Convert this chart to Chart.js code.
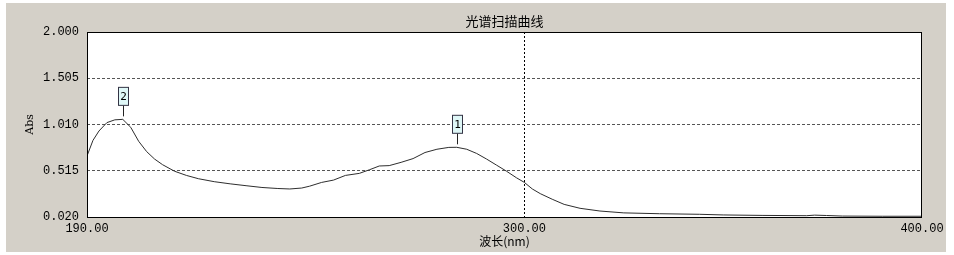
<!DOCTYPE html>
<html>
<head>
<meta charset="utf-8">
<script src="https://cdn.jsdelivr.net/npm/chart.js@4/dist/chart.umd.min.js"></script>
<style>
  html, body { margin: 0; padding: 0; background: #fff; }
  #wrap { width: 954px; height: 255px; }
</style>
</head>
<body>
<div id="wrap"><canvas id="spectrum" width="954" height="255"></canvas></div>
<script>
const titleText = "光谱扫描曲线";
const xTitle = "波长(nm)";
const yTitle = "Abs";

const wavelengths = [
  190, 191.5, 193, 195, 197, 199, 201, 203, 205, 207, 209, 212, 215, 218, 222,
  226, 230, 234, 238, 241, 244, 246, 249, 252, 255, 258.5, 261, 263.5, 266, 269,
  272, 275, 278, 281, 283, 285.5, 288, 290.5, 293, 295.5, 298, 300, 302, 304,
  307, 310, 314, 319, 325, 334, 344, 350, 360, 371, 373, 376, 380, 390, 400
];
const absorbance = [
  0.673, 0.84, 0.94, 1.03, 1.06, 1.065, 0.98, 0.83, 0.72, 0.64, 0.58, 0.51, 0.465, 0.43, 0.398,
  0.375, 0.355, 0.336, 0.325, 0.32, 0.33, 0.35, 0.39, 0.415, 0.465, 0.487, 0.525, 0.566, 0.57, 0.605,
  0.645, 0.71, 0.745, 0.765, 0.766, 0.745, 0.70, 0.64, 0.575, 0.51, 0.44, 0.39, 0.32, 0.27,
  0.21, 0.155, 0.113, 0.084, 0.064, 0.055, 0.049, 0.042, 0.037, 0.034, 0.04, 0.036, 0.03, 0.028, 0.028
];

const xTicks = [190, 300, 400];
const yTicks = [0.02, 0.515, 1.01, 1.505, 2.0];

// peak markers: label + wavelength
const peakLabels = ["1", "2"];
const peakWavelengths = [283, 199];

const tickFont = { family: "'Liberation Mono', 'DejaVu Sans Mono', monospace", size: 12 };
const cjkFont = "'Noto Sans CJK SC', 'Noto Sans', sans-serif";

const points = wavelengths.map((w, i) => ({ x: w, y: absorbance[i] }));

// fond gris + zone blanche
const backdrop = {
  id: "backdrop",
  beforeDraw(chart) {
    const { ctx, chartArea: a } = chart;
    ctx.save();
    ctx.fillStyle = "#ffffff";
    ctx.fillRect(0, 0, chart.width, chart.height);
    ctx.fillStyle = "#d4d0c8";
    ctx.fillRect(6, 3, chart.width - 14, chart.height - 6);
    ctx.fillStyle = "#ffffff";
    ctx.fillRect(a.left, a.top, a.right - a.left, a.bottom - a.top);
    ctx.restore();
  },
  afterDraw(chart) {
    const { ctx, chartArea: a } = chart;
    ctx.save();
    ctx.strokeStyle = "#000";
    ctx.lineWidth = 1;
    ctx.strokeRect(a.left + 0.5, a.top + 0.5, a.right - a.left - 1, a.bottom - a.top);
    // titolo centrato sul grafico
    ctx.fillStyle = "#000";
    ctx.font = "13px " + cjkFont;
    ctx.textAlign = "center";
    ctx.textBaseline = "middle";
    ctx.fillText(titleText, (a.left + a.right) / 2, 21);
    ctx.restore();
  }
};

// marcatori dei picchi
const peakMarkers = {
  id: "peakMarkers",
  afterDatasetsDraw(chart) {
    const { ctx, scales } = chart;
    ctx.save();
    peakLabels.forEach((lab, i) => {
      const idx = wavelengths.indexOf(peakWavelengths[i]);
      const px = Math.round(scales.x.getPixelForValue(wavelengths[idx])) + 0.5;
      const py = scales.y.getPixelForValue(absorbance[idx]);
      ctx.strokeStyle = "#222";
      ctx.lineWidth = 1;
      ctx.beginPath();
      ctx.moveTo(px, py - 3);
      ctx.lineTo(px, py - 14);
      ctx.stroke();
      const bw = 10, bh = 18;
      ctx.fillStyle = "#dff7f7";
      ctx.fillRect(px - bw / 2, py - 14 - bh, bw, bh);
      ctx.strokeStyle = "#334";
      ctx.strokeRect(px - bw / 2, py - 14 - bh, bw, bh);
      ctx.fillStyle = "#000";
      ctx.font = "11px 'DejaVu Sans Mono', monospace";
      ctx.textAlign = "center";
      ctx.textBaseline = "middle";
      ctx.fillText(lab, px, py - 14 - bh / 2 + 1);
    });
    ctx.restore();
  }
};

new Chart(document.getElementById("spectrum"), {
  type: "line",
  data: {
    datasets: [
      {
        data: points,
        borderColor: "#2e2e2e",
        borderWidth: 1,
        pointRadius: 0,
        tension: 0,
        fill: false
      }
    ]
  },
  options: {
    responsive: false,
    animation: false,
    layout: { padding: { left: 20, right: 32, top: 32, bottom: 0 } },
    plugins: {
      legend: { display: false },
      tooltip: { enabled: false },
      title: { display: false }
    },
    scales: {
      x: {
        type: "linear",
        min: 190,
        max: 400,
        afterBuildTicks: (scale) => {
          scale.ticks = xTicks.map((v) => ({ value: v }));
        },
        afterFit: (scale) => {
          scale.height = 38;
        },
        ticks: {
          color: "#000",
          font: tickFont,
          padding: 5,
          maxRotation: 0,
          autoSkip: false,
          callback: (v) => Number(v).toFixed(2)
        },
        grid: {
          drawTicks: false,
          color: (c) => (c.tick && c.tick.value === 300 ? "#000" : "rgba(0,0,0,0)")
        },
        border: { display: false, dash: [2, 2] },
        title: {
          display: true,
          text: xTitle,
          color: "#000",
          font: { family: cjkFont, size: 12 },
          padding: { top: 0, bottom: 6 }
        }
      },
      y: {
        min: 0.02,
        max: 2.0,
        afterBuildTicks: (scale) => {
          scale.ticks = yTicks.map((v) => ({ value: v }));
        },
        afterFit: (scale) => {
          scale.width = 67;
        },
        ticks: {
          color: "#000",
          font: tickFont,
          padding: 8,
          autoSkip: false,
          callback: (v) => Number(v).toFixed(3)
        },
        grid: {
          drawTicks: false,
          color: (c) =>
            c.tick && (c.tick.value === 0.02 || c.tick.value === 2.0) ? "rgba(0,0,0,0)" : "#555"
        },
        border: { display: false, dash: [3, 2] },
        title: {
          display: true,
          text: yTitle,
          color: "#000",
          font: { family: "'DejaVu Serif', serif", size: 11 },
          padding: { top: 4, bottom: 4 }
        }
      }
    }
  },
  plugins: [backdrop, peakMarkers]
});
</script>
</body>
</html>
